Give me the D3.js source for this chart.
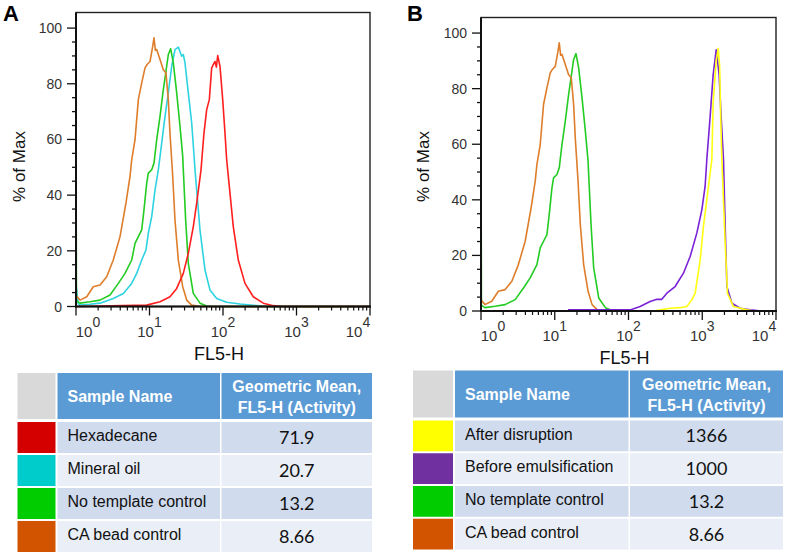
<!DOCTYPE html>
<html>
<head>
<meta charset="utf-8">
<script src="https://cdn.jsdelivr.net/npm/d3@7"></script>
<style>
	body { margin: 0; background: #fff; }
	svg { font-family: "Liberation Sans", Arial, sans-serif; }
</style>
</head>
<body>
<svg id="fig" width="786" height="556"></svg>
<script>
	//
	// Data  ([log10 FL5-H, % of Max])
	//
	let caBead = [[0,4],[0.054,2.3],[0.146,3.5],[0.235,7.1],[0.327,7.7],[0.418,10.7],[0.507,16.7],[0.599,25.1],[0.68,37.2],[0.735,46.7],[0.758,52.7],[0.803,59.9],[0.848,74.3],[0.894,80.3],[0.939,85.7],[0.97,87],[1.007,88],[1.044,93.5],[1.061,96.5],[1.08,92],[1.098,92.3],[1.143,88.7],[1.188,85],[1.224,83.9],[1.256,74.3],[1.279,62],[1.316,46.7],[1.347,31],[1.392,16.7],[1.452,7.1],[1.506,2.3],[1.574,0.5],[1.7,0],[4,0]];
	let noTemplate = [[0,65],[0.006,2],[0.054,1.2],[0.19,1.7],[0.327,2.3],[0.463,4.1],[0.576,8.3],[0.667,11.9],[0.758,16.7],[0.803,22.7],[0.848,25.1],[0.894,27.5],[0.925,34.7],[0.962,44.3],[0.984,47.9],[1.03,49.1],[1.061,51.5],[1.098,59.9],[1.143,68.3],[1.188,77.9],[1.224,84.5],[1.256,90.5],[1.288,92.6],[1.324,87.5],[1.37,76.7],[1.415,64.7],[1.452,53.9],[1.46,49.1],[1.492,31.1],[1.528,15.5],[1.596,4.7],[1.687,1.2],[1.778,0.2],[1.9,0],[4,0]];
	let mineralOil = [[0,8],[0.03,1],[0.054,0.5],[0.19,0.8],[0.327,1.2],[0.507,2.9],[0.644,4.7],[0.758,8.3],[0.826,11.9],[0.894,16.7],[0.952,20.3],[0.984,26.3],[1.03,32.3],[1.075,41.9],[1.12,49.1],[1.166,58.7],[1.211,68.3],[1.256,76.7],[1.302,86.3],[1.347,92.3],[1.392,93.2],[1.438,89.9],[1.46,90.5],[1.483,87.5],[1.528,76.7],[1.574,65.9],[1.61,52.7],[1.619,49.1],[1.687,27.5],[1.755,13.1],[1.823,5.9],[1.914,2.9],[2.05,1.5],[2.231,0.9],[2.459,0.3],[2.6,0],[4,0]];
	let hexadecane = [[0,0],[0.962,0.5],[1.143,1.7],[1.279,3.5],[1.37,6.5],[1.46,11.9],[1.528,19.1],[1.596,28.7],[1.642,37.1],[1.701,49.1],[1.741,62.3],[1.778,70.7],[1.814,74.3],[1.846,85.7],[1.868,86.9],[1.891,88],[1.91,86],[1.928,90.1],[1.959,86.3],[1.996,74.3],[2.027,62.3],[2.05,52.7],[2.095,40.7],[2.14,28.7],[2.208,16.7],[2.299,8.3],[2.412,3.5],[2.548,1.2],[2.684,0.3],[2.8,0],[4,0]];
	let beforeEmulsification = [[1.18,0.4],[1.977,0.4],[2.022,0.4],[2.157,1.6],[2.293,3.4],[2.384,4.2],[2.452,4.2],[2.52,6.4],[2.632,8.8],[2.745,13.6],[2.836,19.6],[2.927,28.1],[2.995,36.5],[3.039,44.9],[3.062,54.5],[3.107,70],[3.148,85],[3.189,94],[3.229,85],[3.256,70],[3.288,54.5],[3.311,30.4],[3.334,8.8],[3.402,2.8],[3.514,1],[3.65,0.4],[3.8,0],[4,0]];
	let afterDisruption = [[0,0],[2.338,0],[2.564,1.0],[2.7,1.2],[2.791,1.6],[2.859,4],[2.904,6.4],[2.972,18.4],[3.016,30.4],[3.062,40.1],[3.13,54.5],[3.148,75],[3.189,90],[3.216,94.5],[3.236,88],[3.25,70],[3.266,54.5],[3.311,24.4],[3.342,6.4],[3.423,1.6],[3.605,0.4],[3.7,0],[4,0]];

	let yTicks = [0, 20, 40, 60, 80, 100];
	let xDecades = [0, 1, 2, 3, 4];

	let tableA_names = ['Hexadecane', 'Mineral oil', 'No template control', 'CA bead control'];
	let tableA_values = ['71.9', '20.7', '13.2', '8.66'];
	let tableA_swatches = ['#d40000', '#00cccc', '#00cc00', '#d35400'];
	let tableB_names = ['After disruption', 'Before emulsification', 'No template control', 'CA bead control'];
	let tableB_values = ['1366', '1000', '13.2', '8.66'];
	let tableB_swatches = ['#ffff00', '#7030a0', '#00cc00', '#d35400'];

	var svg = d3.select("#fig");

	function draw_panel(cfg) {
		var g = svg.append("g").attr("transform", "translate(" + cfg.left + "," + cfg.top + ")");
		var x = d3.scaleLog().domain([1, 1e4]).range([0, cfg.w]);
		var y = d3.scaleLinear().domain([0, 105.6]).range([cfg.h, 0]);

		// curves
		var line = d3.line()
			.x(function(d) { return x(Math.pow(10, d[0])); })
			.y(function(d) { return y(d[1]); });
		cfg.series.forEach(function(s) {
			g.append("path")
				.attr("d", line(s.data))
				.attr("fill", "none")
				.attr("stroke", s.color)
				.attr("stroke-width", 1.6)
				.attr("stroke-linejoin", "round");
		});

		// frame
		g.append("rect").attr("width", cfg.w).attr("height", cfg.h)
			.attr("fill", "none").attr("stroke", "#222").attr("stroke-width", 1.4);
		g.append("line").attr("x1", 0).attr("x2", 0).attr("y1", 0).attr("y2", cfg.h + 1)
			.attr("stroke", "#111").attr("stroke-width", 2);
		g.append("line").attr("x1", -1).attr("x2", cfg.w + 1).attr("y1", cfg.h).attr("y2", cfg.h)
			.attr("stroke", "#111").attr("stroke-width", 2);

		// y ticks
		d3.range(0, 101, 5).forEach(function(v) {
			var major = v % 20 == 0;
			g.append("line").attr("x1", major ? -9 : -4).attr("x2", 0)
				.attr("y1", y(v)).attr("y2", y(v))
				.attr("stroke", "#111").attr("stroke-width", 1.3);
		});
		g.selectAll(".ylab").data(yTicks).enter().append("text")
			.attr("x", -14).attr("y", function(d) { return y(d); })
			.attr("dy", "0.36em").attr("text-anchor", "end")
			.attr("font-size", 14).attr("fill", "#333")
			.text(function(d) { return d; });

		// x ticks
		xDecades.forEach(function(e) {
			var px = x(Math.pow(10, e));
			g.append("line").attr("x1", px).attr("x2", px).attr("y1", cfg.h).attr("y2", cfg.h + 9)
				.attr("stroke", "#111").attr("stroke-width", 1.3);
			if (e < 4) {
				for (var k = 2; k < 10; k++) {
					var mx = x(k * Math.pow(10, e));
					g.append("line").attr("x1", mx).attr("x2", mx).attr("y1", cfg.h).attr("y2", cfg.h + 4)
						.attr("stroke", "#111").attr("stroke-width", 1.2);
				}
			}
			var shift = e == 0 ? 12 : (e == 4 ? -12 : 0);
			var t = g.append("text").attr("x", px + shift).attr("y", cfg.h + 30)
				.attr("text-anchor", "middle").attr("font-size", 15).attr("fill", "#333");
			t.append("tspan").text("10");
			t.append("tspan").attr("dy", -10).attr("font-size", 14).text(e);
		});

		// titles
		g.append("text").attr("x", cfg.w / 2 - 4).attr("y", cfg.h + 53)
			.attr("text-anchor", "middle").attr("font-size", 18).attr("fill", "#111").text("FL5-H");
		g.append("text").attr("transform", "translate(" + (cfg.ylabX) + "," + (cfg.ylabY) + ") rotate(-90)")
			.attr("text-anchor", "middle").attr("font-size", 17).attr("fill", "#111").text("% of Max");

		svg.append("text").attr("x", cfg.letterX).attr("y", 21)
			.attr("font-size", 22).attr("font-weight", "bold").attr("fill", "#000").text(cfg.letter);
	}

	function draw_table(cfg) {
		var g = svg.append("g");
		g.append("rect").attr("x", cfg.c0).attr("y", cfg.top).attr("width", cfg.c1 - cfg.c0 - 2).attr("height", cfg.headH).attr("fill", "#d9d9d9");
		g.append("rect").attr("x", cfg.c1).attr("y", cfg.top).attr("width", cfg.c2 - cfg.c1 - 1.5).attr("height", cfg.headH).attr("fill", "#5b9bd5");
		g.append("rect").attr("x", cfg.c2).attr("y", cfg.top).attr("width", cfg.c3 - cfg.c2).attr("height", cfg.headH).attr("fill", "#5b9bd5");
		g.append("text").attr("x", cfg.c1 + 10).attr("y", cfg.top + cfg.headH / 2).attr("dy", "0.36em")
			.attr("font-size", 16).attr("font-weight", "bold").attr("fill", "#fff").text("Sample Name");
		var mid = (cfg.c2 + cfg.c3) / 2;
		g.append("text").attr("x", mid).attr("y", cfg.top + cfg.headH / 2 - 10).attr("dy", "0.36em").attr("text-anchor", "middle")
			.attr("font-size", 16).attr("font-weight", "bold").attr("fill", "#fff").text("Geometric Mean,");
		g.append("text").attr("x", mid).attr("y", cfg.top + cfg.headH / 2 + 11).attr("dy", "0.36em").attr("text-anchor", "middle")
			.attr("font-size", 16).attr("font-weight", "bold").attr("fill", "#fff").text("FL5-H (Activity)");

		var rowY = d3.scaleBand().domain(d3.range(cfg.names.length))
			.range([cfg.top + cfg.headH + 3, cfg.bottom]).paddingInner(0.06);
		cfg.names.forEach(function(n, i) {
			var ry = rowY(i), rh = rowY.bandwidth();
			var bg = i % 2 == 0 ? "#d0dbee" : "#e9eef7";
			g.append("rect").attr("x", cfg.c0).attr("y", ry).attr("width", cfg.c1 - cfg.c0 - 2).attr("height", rh).attr("fill", cfg.swatches[i]);
			g.append("rect").attr("x", cfg.c1).attr("y", ry).attr("width", cfg.c2 - cfg.c1 - 1.5).attr("height", rh).attr("fill", bg);
			g.append("rect").attr("x", cfg.c2).attr("y", ry).attr("width", cfg.c3 - cfg.c2).attr("height", rh).attr("fill", bg);
			g.append("text").attr("x", cfg.c1 + 10).attr("y", ry + rh / 2 - 2).attr("dy", "0.36em")
				.attr("font-size", 16).attr("fill", "#111").text(n);
			g.append("text").attr("x", mid).attr("y", ry + rh / 2).attr("dy", "0.36em").attr("text-anchor", "middle")
				.attr("font-family", "Lato, 'Open Sans', sans-serif").attr("font-size", 18).attr("fill", "#111").text(cfg.values[i]);
		});
	}

	draw_panel({
		left: 76, top: 12.5, w: 294, h: 294, ylabX: -51, ylabY: 154, letter: "A", letterX: 3,
		series: [
			{ data: mineralOil, color: "#2dd3e0" },
			{ data: noTemplate, color: "#22cc22" },
			{ data: caBead, color: "#de7d2a" },
			{ data: hexadecane, color: "#ff1e1e" }
		]
	});
	draw_panel({
		left: 481, top: 17.5, w: 295, h: 293.5, ylabX: -52, ylabY: 149, letter: "B", letterX: 407,
		series: [
			{ data: noTemplate, color: "#22cc22" },
			{ data: caBead, color: "#de7d2a" },
			{ data: beforeEmulsification, color: "#7a22d6" },
			{ data: afterDisruption, color: "#ffff10" }
		]
	});

	draw_table({ c0: 17.5, c1: 57.5, c2: 221.5, c3: 372, top: 373, headH: 46, bottom: 552,
		names: tableA_names, values: tableA_values, swatches: tableA_swatches });
	draw_table({ c0: 413, c1: 455, c2: 630, c3: 783, top: 370.5, headH: 47, bottom: 549.5,
		names: tableB_names, values: tableB_values, swatches: tableB_swatches });
</script>
</body>
</html>
